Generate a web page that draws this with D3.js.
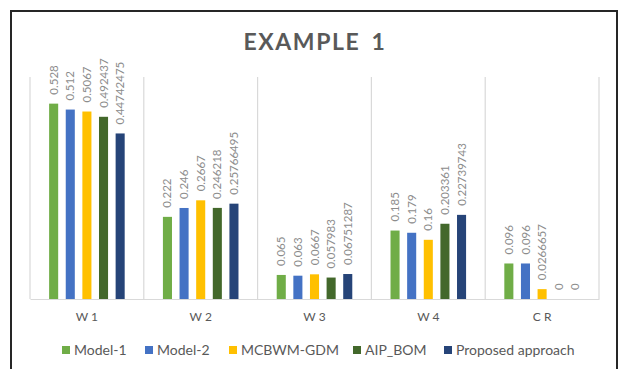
<!DOCTYPE html>
<html>
<head>
<meta charset="utf-8">
<script src="https://cdn.jsdelivr.net/npm/d3@7"></script>
<style>
  body { margin: 0; background: #fff; }
  svg { display: block; font-family: Lato, "Noto Sans", sans-serif; }
</style>
</head>
<body>
<div id="chart"></div>
<script>
// chart data
var categories = ["W 1", "W 2", "W 3", "W 4", "C R"];
var seriesNames = ["Model-1", "Model-2", "MCBWM-GDM", "AIP_BOM", "Proposed approach"];
var model1   = [0.528, 0.222, 0.065, 0.185, 0.096];
var model2   = [0.512, 0.246, 0.063, 0.179, 0.096];
var mcbwm    = [0.5067, 0.2667, 0.0667, 0.16, 0.0266657];
var aipBom   = [0.492437, 0.246218, 0.057983, 0.203361, 0];
var proposed = [0.44742475, 0.25766495, 0.06751287, 0.22739743, 0];
var colors = ["#70ad47", "#4472c4", "#ffc000", "#43682b", "#264478"];

var allSeries = [model1, model2, mcbwm, aipBom, proposed];

// set the dimensions of the graph
var W = 622, H = 369;
var plot = {left: 30, right: 599, top: 77, bottom: 299};

var svg = d3.select("#chart").append("svg")
    .attr("width", W)
    .attr("height", H);

// outer frame
svg.append("rect")
    .attr("x", 11).attr("y", 11)
    .attr("width", 606).attr("height", 380)
    .attr("fill", "none")
    .attr("stroke", "#262626")
    .attr("stroke-width", 2);

// title
svg.append("text")
    .attr("x", 315).attr("y", 49.5)
    .attr("text-anchor", "middle")
    .attr("font-size", 23)
    .attr("font-weight", "bold")
    .attr("letter-spacing", 1.6)
    .attr("word-spacing", 4)
    .attr("fill", "#595959")
    .text("EXAMPLE 1");

// scales
var x0 = d3.scaleBand()
    .domain(categories)
    .range([plot.left, plot.right])
    .padding(0);
var x1 = d3.scaleBand()
    .domain(seriesNames)
    .range([0, x0.bandwidth()])
    .paddingInner(0.455)
    .paddingOuter(1.15);
var y = d3.scaleLinear()
    .domain([0, 0.6])
    .range([plot.bottom, plot.top]);

// vertical separators between categories
var seps = categories.map(c => x0(c)).concat([plot.right]);
svg.selectAll(".sep")
    .data(seps)
  .enter().append("line")
    .attr("class", "sep")
    .attr("x1", d => d).attr("x2", d => d)
    .attr("y1", plot.top).attr("y2", plot.bottom)
    .attr("stroke", "#d9d9d9")
    .attr("stroke-width", 1.2);

// bars grouped by category
var rows = categories.map(function(c, i) {
  return seriesNames.map(function(s, j) {
    return {cat: c, name: s, value: allSeries[j][i], color: colors[j]};
  });
});

var groups = svg.selectAll(".grp")
    .data(rows)
  .enter().append("g")
    .attr("class", "grp")
    .attr("transform", (d, i) => "translate(" + x0(categories[i]) + ",0)");

groups.selectAll("rect")
    .data(d => d)
  .enter().append("rect")
    .attr("x", d => x1(d.name))
    .attr("width", x1.bandwidth())
    .attr("y", d => y(d.value))
    .attr("height", d => plot.bottom - y(d.value))
    .attr("fill", d => d.color);

// rotated data labels
groups.selectAll(".lbl")
    .data(d => d)
  .enter().append("text")
    .attr("class", "lbl")
    .attr("transform", d => "translate(" + (x1(d.name) + x1.bandwidth() / 2) + "," + (y(d.value) - 9) + ") rotate(-90)")
    .attr("dy", "0.35em")
    .attr("font-size", 11.5)
    .attr("fill", "#8c8c8c")
    .text(d => String(d.value));

// x axis
var xAxis = svg.append("g")
    .attr("transform", "translate(0," + plot.bottom + ")")
    .call(d3.axisBottom(x0).tickSize(0).tickPadding(13));
xAxis.select(".domain").attr("stroke", "#d9d9d9").attr("stroke-width", 1.2);
xAxis.selectAll("text")
    .attr("font-family", "Lato, 'Noto Sans', sans-serif")
    .attr("font-size", 12)
    .attr("fill", "#595959");

// legend
var legendX = [62, 145, 229, 353, 444];
var legend = svg.selectAll(".leg")
    .data(seriesNames)
  .enter().append("g")
    .attr("class", "leg")
    .attr("transform", (d, i) => "translate(" + legendX[i] + ",350)");
legend.append("rect")
    .attr("x", 0).attr("y", -4)
    .attr("width", 8).attr("height", 8)
    .attr("fill", (d, i) => colors[i]);
legend.append("text")
    .attr("x", 12)
    .attr("dy", "0.35em")
    .attr("font-size", 14)
    .attr("fill", "#595959")
    .text(d => d);
</script>
</body>
</html>
